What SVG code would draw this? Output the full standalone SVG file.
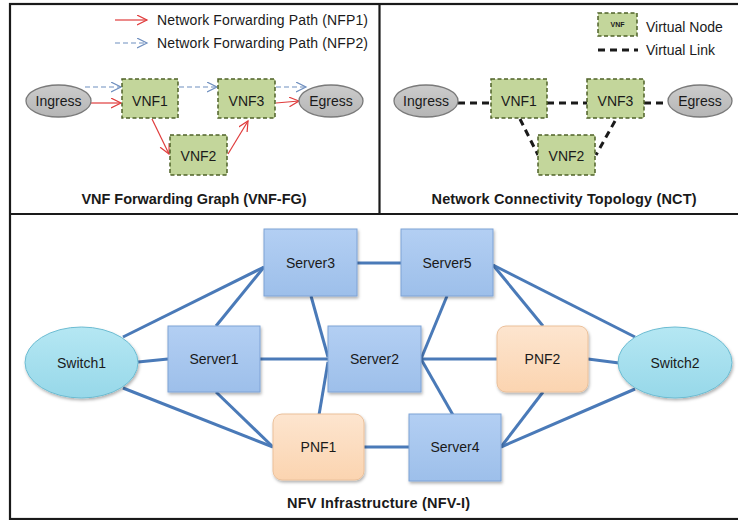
<svg xmlns="http://www.w3.org/2000/svg" width="738" height="520" viewBox="0 0 738 520">
<defs>
<style>
text{font-family:"Liberation Sans",Arial,sans-serif;fill:#1a1a1a}
.lbl{font-size:14px;text-anchor:middle}
.leg{font-size:14px}
.title{font-size:14.5px;font-weight:bold;text-anchor:middle}
.vnf{fill:#c3d69b;stroke:#4f6228;stroke-width:1.5;stroke-dasharray:4,2.5}
.gray{fill:url(#ggray);stroke:#7a7a7a;stroke-width:1.3}
.srv{fill:url(#gsrv);stroke:#7fa3d6;stroke-width:1}
.pnf{fill:url(#gpnf);stroke:#ebc09a;stroke-width:1}
.sw{fill:url(#gsw);stroke:#6cbcd2;stroke-width:1}
.red{stroke:#e03c3c;stroke-width:1.2;fill:none}
.blu{stroke:#6f8fbf;stroke-width:1.2;fill:none;stroke-dasharray:5,3}
.vl{stroke:#1a1a1a;stroke-width:3;fill:none;stroke-dasharray:7,5}
.link{stroke:#4a7ab8;stroke-width:3;fill:none}
.frame{fill:none;stroke:#1a1a1a;stroke-width:2.2}
</style>
<linearGradient id="gsrv" x1="0" y1="0" x2="0" y2="1"><stop offset="0" stop-color="#b3cff3"/><stop offset="1" stop-color="#9dbfea"/></linearGradient>
<linearGradient id="gpnf" x1="0" y1="0" x2="0" y2="1"><stop offset="0" stop-color="#fde5cf"/><stop offset="1" stop-color="#fbd4b0"/></linearGradient>
<linearGradient id="gsw" x1="0" y1="0" x2="0" y2="1"><stop offset="0" stop-color="#b5e7f3"/><stop offset="1" stop-color="#97d8e9"/></linearGradient>
<linearGradient id="ggray" x1="0" y1="0" x2="0" y2="1"><stop offset="0" stop-color="#cccccc"/><stop offset="1" stop-color="#b5b5b5"/></linearGradient>
<filter id="sh" x="-20%" y="-20%" width="140%" height="150%"><feDropShadow dx="1" dy="2" stdDeviation="1.5" flood-color="#000" flood-opacity="0.3"/></filter>
<marker id="ar" markerWidth="12" markerHeight="12" refX="10" refY="5" orient="auto" markerUnits="userSpaceOnUse"><path d="M0,0 L10,5 L0,10" fill="none" stroke="#e03c3c" stroke-width="1.2"/></marker>
<marker id="ab" markerWidth="12" markerHeight="12" refX="10" refY="5" orient="auto" markerUnits="userSpaceOnUse"><path d="M0,0 L10,5 L0,10" fill="none" stroke="#6f8fbf" stroke-width="1.2"/></marker>
</defs>
<rect width="738" height="520" fill="#fff"/>

<g id="frame">
<rect class="frame" x="10" y="4" width="740" height="515"/>
<line class="frame" x1="10" y1="214" x2="738" y2="214"/>
<line class="frame" x1="379.5" y1="4" x2="379.5" y2="214"/>
</g>

<g id="legend-fg">
<line class="red" x1="115" y1="20" x2="147" y2="20" marker-end="url(#ar)"/>
<text class="leg" x="157" y="25" textLength="211">Network Forwarding Path (NFP1)</text>
<line class="blu" x1="115" y1="43" x2="147" y2="43" marker-end="url(#ab)"/>
<text class="leg" x="157" y="48" textLength="211">Network Forwarding Path (NFP2)</text>
</g>

<g id="connectors">
<line class="blu" x1="85" y1="87" x2="121" y2="87" marker-end="url(#ab)"/>
<line class="blu" x1="179" y1="87" x2="217" y2="87" marker-end="url(#ab)"/>
<line class="blu" x1="276" y1="87" x2="306" y2="87" marker-end="url(#ab)"/>
<line class="red" x1="91" y1="103" x2="121" y2="103" marker-end="url(#ar)"/>
<line class="red" x1="276" y1="103" x2="299" y2="101" marker-end="url(#ar)"/>
<line class="red" x1="152" y1="119" x2="169" y2="154" marker-end="url(#ar)"/>
<line class="red" x1="228" y1="154" x2="248" y2="121" marker-end="url(#ar)"/>

<line class="vl" x1="458" y1="103" x2="491" y2="103"/>
<line class="vl" x1="547" y1="103" x2="587" y2="103"/>
<line class="vl" x1="644" y1="103" x2="668" y2="103"/>
<line class="vl" x1="520" y1="119" x2="538" y2="155"/>
<line class="vl" x1="615" y1="121" x2="596" y2="155"/>

<line class="link" x1="123" y1="337" x2="264" y2="267"/>
<line class="link" x1="138" y1="362" x2="168" y2="359"/>
<line class="link" x1="123" y1="388" x2="273" y2="447"/>
<line class="link" x1="216" y1="326" x2="264" y2="267"/>
<line class="link" x1="260" y1="359" x2="328" y2="359"/>
<line class="link" x1="216" y1="392" x2="273" y2="447"/>
<line class="link" x1="311" y1="296" x2="328" y2="357"/>
<line class="link" x1="319" y1="415" x2="328" y2="362"/>
<line class="link" x1="357" y1="263" x2="401" y2="263"/>
<line class="link" x1="364" y1="447" x2="409" y2="447"/>
<line class="link" x1="447" y1="296" x2="421" y2="359"/>
<line class="link" x1="421" y1="359" x2="497" y2="359"/>
<line class="link" x1="421" y1="359" x2="453" y2="415"/>
<line class="link" x1="493" y1="265" x2="543" y2="326"/>
<line class="link" x1="493" y1="265" x2="635" y2="337"/>
<line class="link" x1="588" y1="359" x2="619" y2="363"/>
<line class="link" x1="543" y1="392" x2="501" y2="447"/>
<line class="link" x1="501" y1="447" x2="635" y2="389"/>
</g>

<g id="fg-ingress"><ellipse class="gray" cx="58.5" cy="101" rx="32.5" ry="16"/><text class="lbl" x="58.5" y="106">Ingress</text></g>
<g id="fg-vnf1"><rect class="vnf" x="122" y="79" width="56" height="39"/><text class="lbl" x="150" y="106">VNF1</text></g>
<g id="fg-vnf3"><rect class="vnf" x="218" y="79" width="57" height="39"/><text class="lbl" x="246.5" y="106">VNF3</text></g>
<g id="fg-vnf2"><rect class="vnf" x="170" y="135" width="57" height="40"/><text class="lbl" x="198.5" y="161">VNF2</text></g>
<g id="fg-egress"><ellipse class="gray" cx="331" cy="101" rx="32" ry="16"/><text class="lbl" x="331" y="106">Egress</text></g>
<text class="title" x="194" y="204" textLength="225">VNF Forwarding Graph (VNF-FG)</text>

<g id="legend-nct">
<rect class="vnf" x="598" y="13" width="39" height="23"/>
<text x="617.5" y="27" style="font-size:7px;font-weight:bold;text-anchor:middle">VNF</text>
<text class="leg" x="646" y="32">Virtual Node</text>
<line class="vl" x1="598" y1="50" x2="638" y2="50"/>
<text class="leg" x="646" y="55">Virtual Link</text>
</g>
<g id="nct-ingress"><ellipse class="gray" cx="426" cy="101" rx="32" ry="16"/><text class="lbl" x="426" y="106">Ingress</text></g>
<g id="nct-vnf1"><rect class="vnf" x="491" y="79" width="56" height="39"/><text class="lbl" x="519" y="106">VNF1</text></g>
<g id="nct-vnf3"><rect class="vnf" x="587" y="79" width="57" height="39"/><text class="lbl" x="615.5" y="106">VNF3</text></g>
<g id="nct-vnf2"><rect class="vnf" x="538" y="135" width="57" height="40"/><text class="lbl" x="566.5" y="161">VNF2</text></g>
<g id="nct-egress"><ellipse class="gray" cx="700" cy="101" rx="32" ry="16"/><text class="lbl" x="700" y="106">Egress</text></g>
<text class="title" x="564" y="204" textLength="265">Network Connectivity  Topology  (NCT)</text>

<g id="switch1"><ellipse class="sw" filter="url(#sh)" cx="81.5" cy="362.5" rx="56.5" ry="35.5"/><text class="lbl" x="81.5" y="368">Switch1</text></g>
<g id="server3"><rect class="srv" filter="url(#sh)" x="264" y="229" width="93" height="67"/><text class="lbl" x="310.5" y="268">Server3</text></g>
<g id="server5"><rect class="srv" filter="url(#sh)" x="401" y="229" width="92" height="67"/><text class="lbl" x="447" y="268">Server5</text></g>
<g id="server1"><rect class="srv" filter="url(#sh)" x="168" y="326" width="92" height="66"/><text class="lbl" x="214" y="364">Server1</text></g>
<g id="server2"><rect class="srv" filter="url(#sh)" x="328" y="326" width="93" height="66"/><text class="lbl" x="374.5" y="364">Server2</text></g>
<g id="pnf2"><rect class="pnf" filter="url(#sh)" x="497" y="326" width="91" height="66" rx="9"/><text class="lbl" x="542.5" y="364">PNF2</text></g>
<g id="pnf1"><rect class="pnf" filter="url(#sh)" x="273" y="414" width="91" height="66" rx="9"/><text class="lbl" x="318.5" y="452">PNF1</text></g>
<g id="server4"><rect class="srv" filter="url(#sh)" x="409" y="414" width="92" height="67"/><text class="lbl" x="455" y="452">Server4</text></g>
<g id="switch2"><ellipse class="sw" filter="url(#sh)" cx="675" cy="362.5" rx="57" ry="35.5"/><text class="lbl" x="675" y="368">Switch2</text></g>
<text class="title" x="378.5" y="508" textLength="183">NFV Infrastructure (NFV-I)</text>
</svg>
